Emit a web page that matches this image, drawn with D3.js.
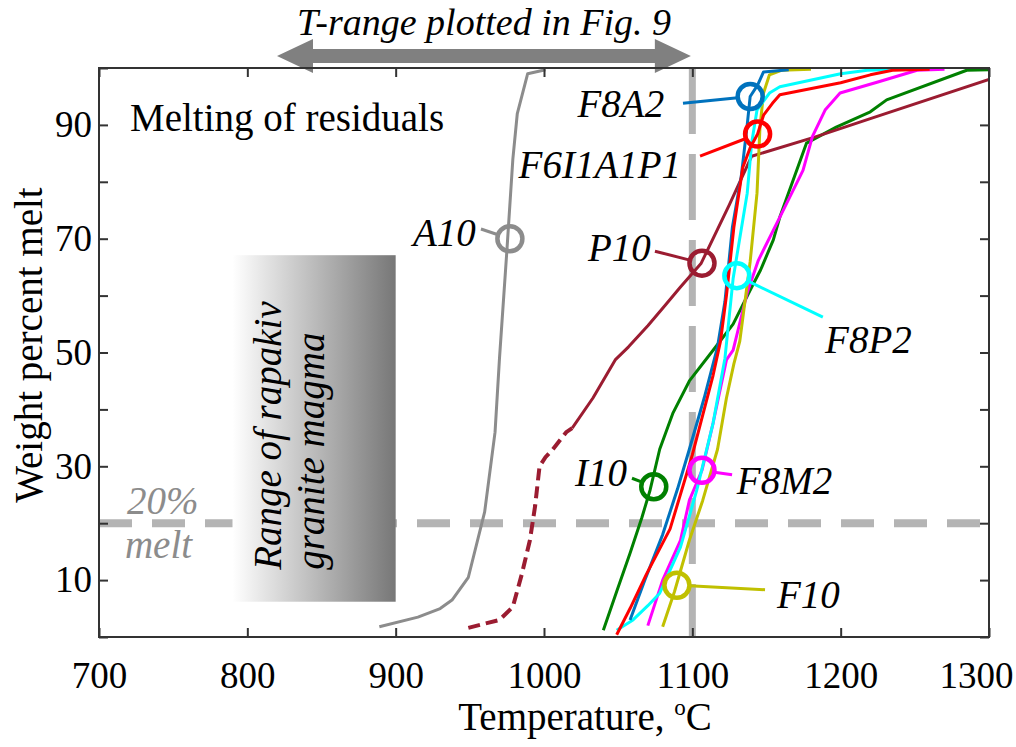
<!DOCTYPE html>
<html lang="en">
<head>
<meta charset="utf-8">
<title>Melting of residuals</title>
<script src="https://d3js.org/d3.v7.min.js"></script>
<style>
body { margin: 0; background: #fff; }
svg { display: block; font-family: "Liberation Serif", "Times New Roman", serif; }
.lbl { font-style: italic; font-size: 39px; fill: #000; }
.tick text { font-size: 37px; fill: #000; font-family: "Liberation Serif", serif; }
</style>
</head>
<body>
<script>
// axis values
var tempTicks = [700, 800, 900, 1000, 1100, 1200, 1300];
var meltTicks = [0, 10, 20, 30, 40, 50, 60, 70, 80, 90, 100];
var meltLabels = [10, 30, 50, 70, 90];

// melting curves, [temperature C, wt% melt]
var a10 = [[889,1.8],[915,3.5],[930,5],[938,6.5],[949,10.5],[960,22],[967,36],[970,49],[975,68],[979,84],[982,92],[989,99],[1001,99.7]];
var p10Dashed = [[949,1.6],[970,3],[979,5.3],[985,11],[990.5,17],[994,23],[997,30],[1001,31.6],[1006,33],[1015,36],[1019,36.7]];
var p10 = [[1019,36.7],[1033,42],[1048,48.7],[1057,51],[1070,54.7],[1082,58.4],[1092,61.5],[1106,65.7],[1125,76],[1140,84.5],[1183,87.9],[1220,91.1],[1300,98]];
var f8a2 = [[1058,3],[1068,10],[1080,18],[1090,26],[1098,33],[1108,42],[1117,51],[1122,59],[1127,72],[1133,81],[1137,90],[1139,95],[1144,97],[1148,99.3],[1165,99.7]];
var f6i1a1p1 = [[1049,0.4],[1058,5],[1069,11],[1085,19],[1100,32],[1114,46],[1119,52],[1123,60],[1128,72],[1134,82.5],[1139,86],[1144,88.4],[1148,91.7],[1154,93.8],[1159,95.3],[1200,97.4],[1220,98.8],[1235,99.6],[1260,99.8]];
var f8p2 = [[1049,1.2],[1060,3],[1070,5.5],[1078,7.7],[1092,15.8],[1103,25.8],[1114,37.6],[1122,49],[1127.5,63],[1137,78],[1140,86.8],[1143.6,92.6],[1152,95.6],[1159,96.7],[1200,99],[1218,99.6],[1240,99.8]];
var f8m2 = [[1070,2],[1080,10],[1092,17],[1098,24],[1106.5,29.3],[1114,37.6],[1123,48.7],[1127.5,50.4],[1137,60.5],[1144.5,66.2],[1159,73.8],[1174.6,82],[1181,88],[1189.5,92.6],[1199.6,95.6],[1224.5,97.5],[1251.5,99.6],[1270,99.8]];
var i10 = [[1040,1.2],[1049,8],[1058,14.7],[1066,21],[1071.5,25.8],[1078,33],[1087,39.4],[1098,45],[1114,50.4],[1127.5,55],[1141,62],[1146,64.5],[1154.6,69.8],[1159,73.8],[1177,86.8],[1197,89.6],[1220,92.3],[1231,94.4],[1285,99.6],[1300,99.7]];
var f10 = [[1080,1.8],[1088,8],[1098,17],[1107,24],[1117,33],[1123,42],[1128,48],[1132,52],[1139,66],[1143.6,78],[1145.6,89.6],[1148,95.6],[1152,98.8],[1160,99.6],[1180,99.8]];

var series = [
  {name: "I10", data: i10, color: "#008000"},
  {name: "P10", data: p10, color: "#9b1c31"},
  {name: "F8M2", data: f8m2, color: "#ff00ff"},
  {name: "F10", data: f10, color: "#c0c000"},
  {name: "F8P2", data: f8p2, color: "#00ffff"},
  {name: "F8A2", data: f8a2, color: "#0072bd"},
  {name: "F6I1A1P1", data: f6i1a1p1, color: "#ff0000"},
  {name: "A10", data: a10, color: "#8c8c8c"}
];

// label circles, text and leader start, in data units
var marks = [
  {name: "A10", color: "#8c8c8c", at: [977, 70], text: [954, 68.7], anchor: "end", lead: [957.5, 71.7]},
  {name: "F8A2", color: "#0072bd", at: [1139, 95], text: [1081, 91.4], anchor: "end", lead: [1093.7, 93.8]},
  {name: "F6I1A1P1", color: "#ff0000", at: [1144, 88.4], text: [1092.4, 80.7], anchor: "end", lead: [1105.2, 84.5]},
  {name: "P10", color: "#9b1c31", at: [1106.5, 65.7], text: [1072, 66.1], anchor: "end", lead: [1074.8, 67.8]},
  {name: "F8P2", color: "#00ffff", at: [1130, 63.5], text: [1189.5, 49.9], anchor: "start", lead: [1188, 56.2]},
  {name: "F8M2", color: "#ff00ff", at: [1106.5, 29.3], text: [1130, 25.1], anchor: "start", lead: [1126.8, 28.5]},
  {name: "I10", color: "#008000", at: [1074, 26.4], text: [1056, 26.5], anchor: "end", lead: [1059.3, 27.9]},
  {name: "F10", color: "#c0c000", at: [1089.6, 9.1], text: [1157, 5.1], anchor: "start", lead: [1149, 8.3]}
];

var w = 1016;
var h = 747;
var pl = 99, pr = 989, pt = 68, pb = 637;

var x = d3.scaleLinear().domain([700, 1300]).range([pl, pr]);
var y = d3.scaleLinear().domain([0, 100]).range([pb, pt]);

var svg = d3.select("body").append("svg")
  .attr("width", w)
  .attr("height", h);

var defs = svg.append("defs");
var grad = defs.append("linearGradient").attr("id", "rangeGrad");
grad.append("stop").attr("offset", "0%").attr("stop-color", "#ffffff");
grad.append("stop").attr("offset", "100%").attr("stop-color", "#777777");
defs.append("clipPath").attr("id", "plotClip")
  .append("rect").attr("x", pl).attr("y", pt)
  .attr("width", pr - pl).attr("height", pb - pt);

// title + double arrow
svg.append("text")
  .attr("x", 484).attr("y", 35)
  .attr("text-anchor", "middle")
  .attr("class", "lbl")
  .style("font-size", "38px")
  .text("T-range plotted in Fig. 9");

var xl = x(820), xr = x(1099), head = 36;
svg.append("polygon")
  .attr("points", [
    [xl, 56], [xl + head, 39], [xl + head, 49], [xr - head, 49], [xr - head, 39],
    [xr, 56], [xr - head, 73], [xr - head, 63], [xl + head, 63], [xl + head, 73]
  ].join(" "))
  .style("fill", "#808080");

var plot = svg.append("g").attr("clip-path", "url(#plotClip)");

// grey dashed reference lines
plot.append("line")
  .attr("x1", x(1100)).attr("x2", x(1100))
  .attr("y1", y(100)).attr("y2", y(0))
  .style("stroke", "#b4b4b4").style("stroke-width", 7)
  .style("stroke-dasharray", "66,20");
plot.append("line")
  .attr("x1", x(700)).attr("x2", x(1300))
  .attr("y1", y(20)).attr("y2", y(20))
  .style("stroke", "#b4b4b4").style("stroke-width", 8)
  .style("stroke-dasharray", "33,20");

// rapakivi granite range box
plot.append("rect")
  .attr("x", x(790)).attr("y", y(67.1))
  .attr("width", x(900) - x(790)).attr("height", y(6.2) - y(67.1))
  .style("fill", "url(#rangeGrad)");

var line = d3.line()
  .x(function(d) { return x(d[0]); })
  .y(function(d) { return y(d[1]); });

plot.append("path")
  .attr("d", line(p10Dashed))
  .style("fill", "none").style("stroke", "#9b1c31")
  .style("stroke-width", 4).style("stroke-dasharray", "12,6");

plot.selectAll("path.curve")
  .data(series)
  .enter()
  .append("path")
  .attr("class", "curve")
  .attr("d", function(d) { return line(d.data); })
  .style("fill", "none")
  .style("stroke", function(d) { return d.color; })
  .style("stroke-width", 3)
  .style("stroke-linejoin", "round");

// axes, ticks pointing inward
var gx = svg.append("g").attr("transform", "translate(0," + pb + ")")
  .call(d3.axisBottom(x).tickValues(tempTicks).tickSizeInner(-9).tickSizeOuter(0).tickPadding(25)
    .tickFormat(d3.format("d")));
var gxt = svg.append("g").attr("transform", "translate(0," + pt + ")")
  .call(d3.axisTop(x).tickValues(tempTicks).tickSizeInner(-9).tickSizeOuter(0).tickFormat(""));
var gy = svg.append("g").attr("transform", "translate(" + pl + ",0)")
  .call(d3.axisLeft(y).tickValues(meltTicks).tickSizeInner(-9).tickSizeOuter(0).tickPadding(7)
    .tickFormat(function(d) { return meltLabels.indexOf(d) >= 0 ? d : ""; }));
var gyr = svg.append("g").attr("transform", "translate(" + pr + ",0)")
  .call(d3.axisRight(y).tickValues(meltTicks).tickSizeInner(-9).tickSizeOuter(0).tickFormat(""));

[gx, gxt, gy, gyr].forEach(function(g) {
  g.select(".domain").remove();
  g.selectAll(".tick line").style("stroke", "#333").style("stroke-width", 2);
});
gx.selectAll(".tick text").filter(function(d) { return d === 1300; })
  .attr("text-anchor", "end").attr("x", 24);

svg.append("rect")
  .attr("x", pl).attr("y", pt)
  .attr("width", pr - pl).attr("height", pb - pt)
  .style("fill", "none").style("stroke", "#333").style("stroke-width", 2);

// labels inside plot
svg.append("text")
  .attr("x", x(720.9)).attr("y", y(88.9))
  .style("font-size", "39px")
  .text("Melting of residuals");

svg.append("text").attr("class", "lbl").style("fill", "#8c8c8c")
  .attr("x", x(718.9)).attr("y", y(21.6)).text("20%");
svg.append("text").attr("class", "lbl").style("fill", "#8c8c8c")
  .attr("x", x(717.5)).attr("y", y(13.9)).text("melt");

svg.append("text").attr("class", "lbl")
  .attr("transform", "translate(" + x(822.7) + "," + y(11.8) + ") rotate(-90)")
  .text("Range of rapakiv");
svg.append("text").attr("class", "lbl")
  .attr("transform", "translate(" + x(852) + "," + y(11.8) + ") rotate(-90)")
  .text("granite magma");

// circle markers with leaders
var r = 12.5;
var mk = svg.selectAll("g.mark").data(marks).enter().append("g").attr("class", "mark");
mk.append("line")
  .attr("x1", function(d) { return x(d.lead[0]); })
  .attr("y1", function(d) { return y(d.lead[1]); })
  .attr("x2", function(d) {
    var dx = x(d.at[0]) - x(d.lead[0]), dy = y(d.at[1]) - y(d.lead[1]);
    var len = Math.sqrt(dx * dx + dy * dy);
    return x(d.at[0]) - dx / len * r;
  })
  .attr("y2", function(d) {
    var dx = x(d.at[0]) - x(d.lead[0]), dy = y(d.at[1]) - y(d.lead[1]);
    var len = Math.sqrt(dx * dx + dy * dy);
    return y(d.at[1]) - dy / len * r;
  })
  .style("stroke", function(d) { return d.color; })
  .style("stroke-width", 3);
mk.append("circle")
  .attr("cx", function(d) { return x(d.at[0]); })
  .attr("cy", function(d) { return y(d.at[1]); })
  .attr("r", r)
  .style("fill", "none")
  .style("stroke", function(d) { return d.color; })
  .style("stroke-width", 4.5);
mk.append("text")
  .attr("class", "lbl")
  .attr("x", function(d) { return x(d.text[0]); })
  .attr("y", function(d) { return y(d.text[1]); })
  .attr("text-anchor", function(d) { return d.anchor; })
  .text(function(d) { return d.name; });

// axis titles
var xt = svg.append("text")
  .attr("x", 585).attr("y", 730)
  .attr("text-anchor", "middle")
  .style("font-size", "39px");
xt.append("tspan").text("Temperature, ");
xt.append("tspan").attr("dy", -15).style("font-size", "23px").text("o");
xt.append("tspan").attr("dy", 15).text("C");

svg.append("text")
  .attr("transform", "translate(42,345) rotate(-90)")
  .attr("text-anchor", "middle")
  .style("font-size", "39px")
  .text("Weight percent melt");
</script>
</body>
</html>
